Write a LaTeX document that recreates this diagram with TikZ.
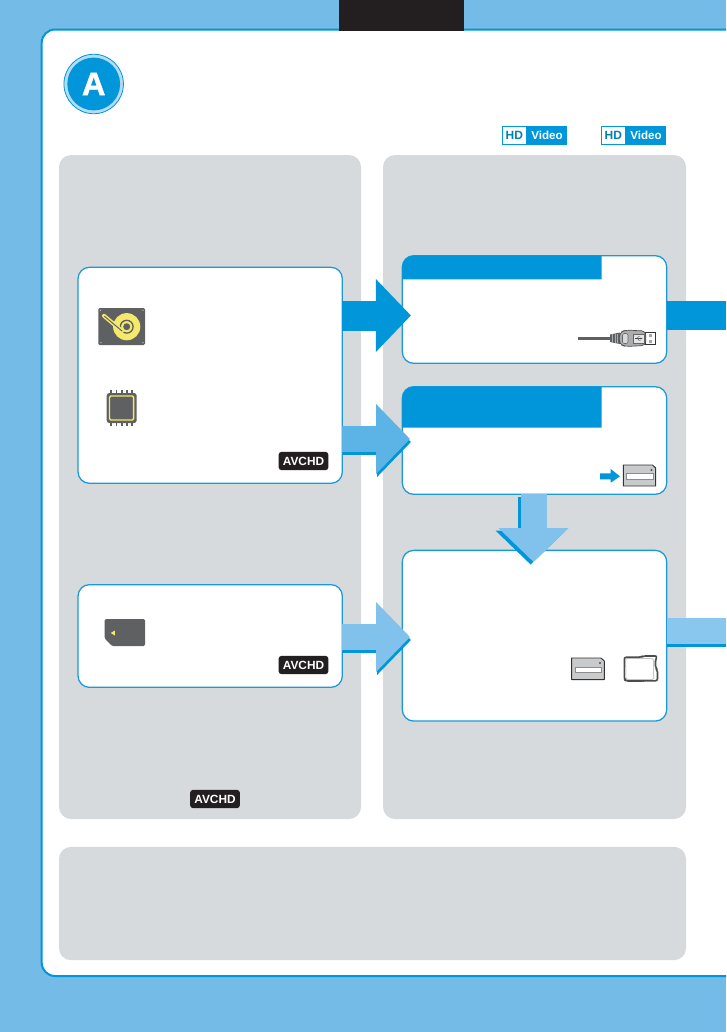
\documentclass[tikz,border=0pt]{standalone}
\usepackage{fontspec}
\setmainfont{Liberation Sans}
\newfontfamily\heavyfont[FakeBold=1.4]{Liberation Sans Bold}
\usetikzlibrary{arrows.meta}
\definecolor{skyback}{HTML}{74BBE8}
\definecolor{sonyblue}{HTML}{0096D9}
\definecolor{boxline}{HTML}{1A9AD7}
\definecolor{panelgrey}{HTML}{D6DADD}
\definecolor{tabblack}{HTML}{231F20}
\definecolor{flowmid}{HTML}{5BB3E6}
\definecolor{flowpale}{HTML}{80C2EC}
\definecolor{flowexit}{HTML}{8AC7EE}
\definecolor{ringlight}{HTML}{B4DCF5}
\definecolor{icongrey}{HTML}{5F6062}
\definecolor{iconyellow}{HTML}{F4E96B}
\definecolor{cardgrey}{HTML}{C9CACB}
\definecolor{bodygrey}{HTML}{ABACAE}
\tikzset{
  greypanel/.style={fill=panelgrey,rounded corners=9pt,inner sep=0pt,outer sep=0pt},
  whitebox/.style={draw=boxline,line width=0.95pt,fill=white,rounded corners=8.5pt,inner sep=0pt,outer sep=0pt},
  avchdtag/.style={fill=tabblack,rounded corners=2pt,text=white,font=\bfseries\fontsize{8.9}{9}\selectfont,
    minimum width=37.2pt,minimum height=13.6pt,inner sep=0pt,outer sep=0pt},
  hdleft/.style={draw=sonyblue,line width=0.7pt,fill=white,text=sonyblue!85!black,font=\bfseries\fontsize{9}{9}\selectfont,
    minimum width=18.5pt,minimum height=13.8pt,inner sep=0pt,outer sep=0pt},
  hdright/.style={fill=sonyblue,text=white,font=\bfseries\fontsize{8.7}{9}\selectfont,
    minimum width=30.5pt,minimum height=14.3pt,inner sep=0pt,outer sep=0pt},
  flowbold/.style={sonyblue,line width=22.5pt,-{Triangle[length=26.25pt,width=53pt]}},
  flowsoft/.style={line width=19.5pt,-{Triangle[length=25.5pt,width=51pt]}},
  exitbar/.style={line width=19.5pt},
  stickbody/.style={draw=black!80,line width=0.7pt,fill=cardgrey,line join=round},
  stickslot/.style={draw=black!45,line width=0.3pt,fill=white},
}
\begin{document}
\begin{tikzpicture}[x=0.75pt,y=-0.75pt]
\useasboundingbox (0,0) rectangle (726,1032);
\clip (0,0) rectangle (726,1032);
\fill[skyback] (0,0) rectangle (726,1032);
\draw[sonyblue,line width=1.5pt,fill=white,rounded corners=10pt] (41.7,29.5) rectangle (780,976);
\node[fill=tabblack,minimum width=93.75pt,minimum height=23.25pt,inner sep=0pt,outer sep=0pt] (tab) at (401.5,15.5) {};

% badge A
\node[circle,draw=sonyblue,line width=0.6pt,fill=ringlight,minimum size=44.6pt,inner sep=0pt] (ringA) at (93.7,84) {};
\node[circle,fill=sonyblue,minimum size=39.6pt,inner sep=0pt,text=white,font=\heavyfont\fontsize{24.5}{26}\selectfont] (letterA) at (93.7,84) {A};

% HD Video tags
\node[hdleft]  (hdA) at (514.4,135.2) {HD};
\node[hdright,anchor=west] (vidA) at (hdA.east) {Video};
\node[hdleft]  (hdB) at (613.4,135.2) {HD};
\node[hdright,anchor=west] (vidB) at (hdB.east) {Video};

% grey panels
\node[greypanel,minimum width=226.5pt,minimum height=498pt] (leftpanel) at (210,487) {};
\node[greypanel,minimum width=227.25pt,minimum height=498pt] (rightpanel) at (534.5,487) {};
\node[greypanel,minimum width=470.25pt,minimum height=85pt] (bottompanel) at (372.5,903.5) {};

% white boxes
\node[whitebox,minimum width=198.2pt,minimum height=162pt] (hddbox) at (210.2,375.3) {};
\node[whitebox,minimum width=198.2pt,minimum height=77pt] (cardbox) at (210.2,636) {};
\node[whitebox,minimum width=198.3pt,minimum height=80.7pt] (usbbox) at (534.5,309.5) {};
\node[whitebox,minimum width=198.3pt,minimum height=80.7pt] (discbox) at (534.5,440.5) {};
\node[whitebox,minimum width=198.3pt,minimum height=128pt] (sdbox) at (534.5,635.7) {};

% header strips
\fill[sonyblue,rounded corners=8.5pt] (402.3,279.3) -- (402.3,255.7) [sharp corners] -- (601.7,255.7) -- (601.7,279.3) -- cycle;
\fill[sonyblue,rounded corners=8.5pt] (402.3,427.7) -- (402.3,386.7) [sharp corners] -- (601.7,386.7) -- (601.7,427.7) -- cycle;

% AVCHD tags
\node[avchdtag] (tagA) at (303.5,461) {AVCHD};
\node[avchdtag] (tagB) at (303.5,665) {AVCHD};
\node[avchdtag] (tagC) at (215,799) {AVCHD};

% arrow levels and free ends
\coordinate (levA) at (0,315.5);
\coordinate (levB) at (0,439);
\coordinate (levC) at (0,637);
\coordinate (levD) at (0,631);
\coordinate (colV) at (533.6,0);
\coordinate (edgeA) at (726,315.5);
\coordinate (edgeD) at (726,631);

% connectors
\draw[flowbold,shorten >=-6.5pt] (hddbox.east |- levA) -- (usbbox.west |- levA);
\draw[flowsoft,sonyblue,shorten >=-5.8pt] ([shift={(1,3)}]hddbox.east |- levB) -- ([shift={(1,3)}]discbox.west |- levB);
\draw[flowsoft,flowmid,shorten >=-5.8pt] (hddbox.east |- levB) -- (discbox.west |- levB);
\draw[flowsoft,sonyblue,shorten >=-5.8pt] ([shift={(1,3)}]cardbox.east |- levC) -- ([shift={(1,3)}]sdbox.west |- levC);
\draw[flowsoft,flowpale,shorten >=-5.8pt] (cardbox.east |- levC) -- (sdbox.west |- levC);
\draw[flowsoft,sonyblue,shorten >=-8.8pt] ([shift={(-3,2.5)}]colV |- discbox.south) -- ([shift={(-3,2.5)}]colV |- sdbox.north);
\draw[flowsoft,flowpale,shorten >=-8.8pt] (colV |- discbox.south) -- (colV |- sdbox.north);
\draw[sonyblue,line width=22pt] (usbbox.east |- levA) -- (edgeA);
\draw[exitbar,sonyblue] ([yshift=-2.25pt]sdbox.east |- levD) -- ([yshift=-2.25pt]edgeD);
\draw[exitbar,flowexit] (sdbox.east |- levD) -- (edgeD);

% hard disc icon
\fill[icongrey,rounded corners=1pt] (98.3,308) rectangle (145,345);
\foreach \dx/\dy in {100.5/310.3,143/310.3,101/342.7,143/342.7}{\fill[white!85!black] (\dx,\dy) circle (0.5pt);}
\fill[iconyellow] (126.7,326.7) circle (10.2pt);
\draw[icongrey,line width=1pt] (126.7,326.7) circle (4.8pt);
\fill[icongrey] (126.7,326.7) circle (2.6pt);
\draw[iconyellow,line width=3pt,line cap=round] (104,315.8) -- (122,331);
\draw[icongrey,line width=0.7pt,line cap=round] (104.5,316.3) -- (122,331);

% memory chip icon
\foreach \px in {111.3,116.6,121.7,126.9,132}{\draw[icongrey,line width=1.3pt] (\px,390) -- (\px,426);}
\fill[icongrey,rounded corners=2pt] (106.7,393) rectangle (136.7,423);
\draw[iconyellow,line width=1.1pt,rounded corners=1pt] (109.5,396) rectangle (133.7,420);

% card icon
\fill[icongrey,rounded corners=1pt] (104.7,619) -- (145,619) -- (145,646) -- (112,646) -- (104.7,638.5) -- cycle;
\fill[iconyellow] (110.7,633) -- (114.8,630.5) -- (114.8,635.5) -- cycle;

% USB plug
\draw[icongrey,line width=2pt] (578,338.3) -- (610,338.3);
\fill[icongrey] (610,334.5) -- (620,332.5) -- (620,344) -- (610,342) -- cycle;
\foreach \qx in {612.5,615,617.5}{\draw[bodygrey,line width=0.3pt] (\qx,334) -- (\qx,343);}
\draw[stickslot,draw=black!80,line width=0.6pt] (645.7,332.7) rectangle (655.7,344);
\fill[black!35] (649.2,334) rectangle (651.8,337) (649.2,340) rectangle (651.8,343);
\draw[black!70,fill=bodygrey,line width=0.5pt,rounded corners=3pt] (619.3,333) -- (625,330) -- (645.7,331) -- (645.7,345.5) -- (625,346.5) -- (619.3,344) -- cycle;
\draw[black!60,fill=black!15,line width=0.4pt,rounded corners=1.5pt] (622.5,333.5) rectangle (628,343.5);
\draw[black!60,fill=black!10,line width=0.4pt] (633,334) rectangle (644,343);
\draw[black!70,line width=0.4pt,-{Stealth[length=1.5pt]}] (635,338.5) -- (642.5,338.5);
\draw[black!70,line width=0.3pt] (637,338.5) -- (638.5,336.5) -- (640,336.5) (637.5,338.5) -- (639,340.5) -- (640.5,340.5);

% small arrow
\fill[sonyblue] (600,473.3) -- (610.7,473.3) -- (610.7,469) -- (620,476.3) -- (610.7,482.7) -- (610.7,479.3) -- (600,479.3) -- cycle;

% stick in disc box
\draw[stickbody] (623.3,465) -- (652.5,465) -- (655.7,468) -- (655.7,486) -- (623.3,486) -- cycle;
\draw[stickslot] (626,473.3) rectangle (652.7,479.3);
\fill[black!70] (651.5,470) circle (0.8pt);

% stick in sd box
\draw[stickbody] (571.7,658) -- (601,658) -- (604.3,661) -- (604.3,679.7) -- (571.7,679.7) -- cycle;
\draw[stickslot] (575,666.7) rectangle (600.7,672.3);
\fill[black!70] (600,663) circle (0.8pt);

% SD card
\draw[black!70,line width=1.2pt,fill=white,rounded corners=1.5pt,line join=round]
  (624.3,657.2) -- (641,657.2) -- (643,656) -- (657.2,656) -- (655.5,659.5) -- (655.5,668) -- (657.5,670) -- (657.5,680.8) -- (645,680.8) -- (643,681) -- (626,681) -- (624.3,679.5) -- cycle;
\draw[black!35,line width=0.4pt,rounded corners=1pt]
  (625.6,658.6) -- (642,658.6) -- (653.5,658.6) -- (653.8,679.4) -- (626,679.4) -- cycle;
\end{tikzpicture}
\end{document}
